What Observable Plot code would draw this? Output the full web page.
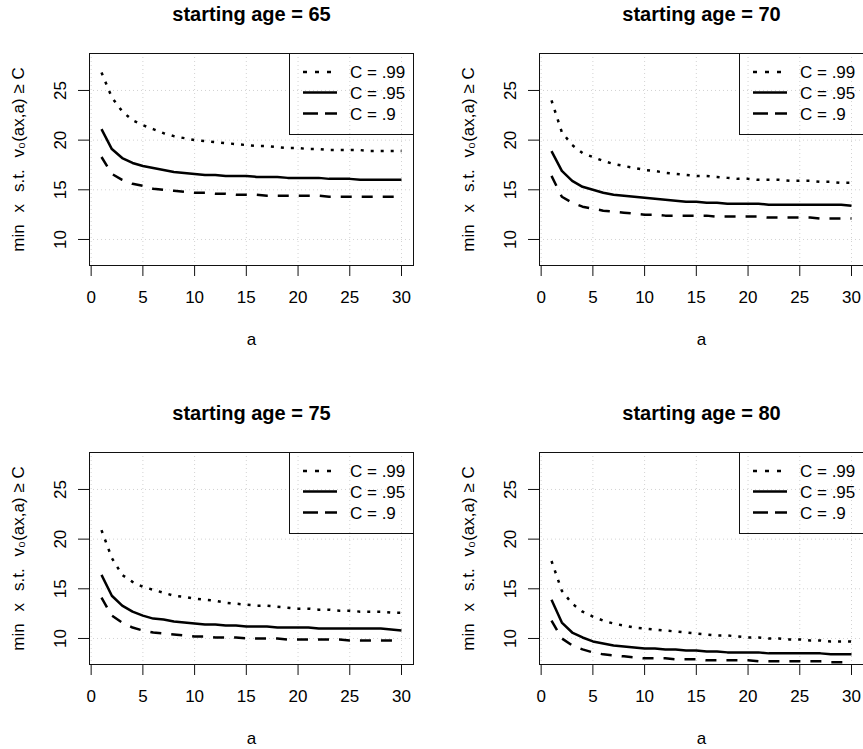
<!DOCTYPE html>
<html><head><meta charset="utf-8">
<script src="https://cdn.jsdelivr.net/npm/d3@7"></script>
<script src="https://cdn.jsdelivr.net/npm/@observablehq/plot@0.6"></script>
<style>
body{margin:0;background:#fff;}
#fig{position:relative;width:863px;height:749px;overflow:hidden;background:#fff;}
.panel{position:absolute;width:450px;height:399px;}
.panel svg{max-width:none !important;width:450px !important;height:399px !important;}
</style></head><body><div id="fig"></div>
<script>
// x values (a)
const aValues = [1,2,3,4,5,6,7,8,9,10,11,12,13,14,15,16,17,18,19,20,21,22,23,24,25,26,27,28,29,30];
const xTicks = [0,5,10,15,20,25,30];
const yTicks = [10,15,20,25];
const startingAges = [65,70,75,80];
const legendLabels = ["C = .99","C = .95","C = .9"];

// starting age 65
const age65_C99 = [26.8,24.3,22.9,22.0,21.5,21.1,20.7,20.4,20.2,20.0,19.9,19.8,19.7,19.6,19.5,19.4,19.4,19.3,19.2,19.2,19.1,19.1,19.0,19.0,19.0,19.0,18.9,18.9,18.9,18.9];
const age65_C95 = [21.1,19.1,18.2,17.7,17.4,17.2,17.0,16.8,16.7,16.6,16.5,16.5,16.4,16.4,16.4,16.3,16.3,16.3,16.2,16.2,16.2,16.2,16.1,16.1,16.1,16.0,16.0,16.0,16.0,16.0];
const age65_C90 = [18.3,16.6,16.0,15.6,15.4,15.1,15.0,14.9,14.8,14.7,14.7,14.6,14.6,14.5,14.5,14.5,14.4,14.4,14.4,14.4,14.4,14.4,14.3,14.3,14.3,14.3,14.3,14.3,14.3,14.3];
// starting age 70
const age70_C99 = [24.0,20.8,19.5,18.7,18.3,17.9,17.6,17.4,17.2,17.0,16.9,16.7,16.6,16.5,16.4,16.4,16.3,16.2,16.1,16.1,16.0,16.0,16.0,15.9,15.9,15.9,15.8,15.8,15.7,15.7];
const age70_C95 = [18.9,16.9,15.9,15.3,15.0,14.7,14.5,14.4,14.3,14.2,14.1,14.0,13.9,13.8,13.8,13.7,13.7,13.6,13.6,13.6,13.6,13.5,13.5,13.5,13.5,13.5,13.5,13.5,13.5,13.4];
const age70_C90 = [16.4,14.3,13.7,13.3,13.1,12.9,12.8,12.7,12.6,12.5,12.5,12.4,12.4,12.4,12.4,12.4,12.3,12.3,12.3,12.3,12.3,12.2,12.2,12.2,12.2,12.2,12.1,12.1,12.1,12.1];
// starting age 75
const age75_C99 = [20.9,18.1,16.4,15.7,15.2,14.9,14.6,14.3,14.2,14.0,13.9,13.8,13.6,13.5,13.4,13.3,13.3,13.2,13.1,13.0,13.0,12.9,12.9,12.8,12.8,12.7,12.7,12.7,12.6,12.6];
const age75_C95 = [16.4,14.3,13.3,12.7,12.3,12.0,11.9,11.7,11.6,11.5,11.4,11.4,11.3,11.3,11.2,11.2,11.2,11.1,11.1,11.1,11.1,11.0,11.0,11.0,11.0,11.0,11.0,11.0,10.9,10.8];
const age75_C90 = [14.1,12.3,11.6,11.1,10.8,10.6,10.5,10.4,10.3,10.2,10.2,10.1,10.1,10.1,10.0,10.0,10.0,10.0,9.9,9.9,9.9,9.9,9.9,9.9,9.8,9.8,9.8,9.8,9.8,9.8];
// starting age 80
const age80_C99 = [17.8,14.8,13.5,12.7,12.2,11.8,11.5,11.3,11.1,11.0,10.9,10.8,10.7,10.6,10.5,10.4,10.3,10.3,10.2,10.1,10.1,10.0,10.0,9.9,9.9,9.8,9.8,9.7,9.7,9.7];
const age80_C95 = [13.9,11.6,10.6,10.1,9.7,9.5,9.3,9.2,9.1,9.0,9.0,8.9,8.9,8.8,8.8,8.7,8.7,8.6,8.6,8.6,8.6,8.5,8.5,8.5,8.5,8.5,8.5,8.4,8.4,8.4];
const age80_C90 = [11.8,10.0,9.3,8.9,8.6,8.4,8.3,8.2,8.1,8.0,8.0,8.0,7.9,7.9,7.9,7.8,7.8,7.8,7.8,7.8,7.7,7.7,7.7,7.7,7.7,7.7,7.7,7.6,7.6,7.6];

const seriesByAge = {
  65: [age65_C99, age65_C95, age65_C90],
  70: [age70_C99, age70_C95, age70_C90],
  75: [age75_C99, age75_C95, age75_C90],
  80: [age80_C99, age80_C95, age80_C90]
};

const FONT = "'Liberation Sans', Arial, Helvetica, sans-serif";
const styles = [
  {dash: "3,7", width: 2.5},
  {dash: null, width: 2.5},
  {dash: "11,10", width: 2.5}
];
const yTitle = "min\u2002\u2009x\u2002\u2009s.t.\u2002\u2009v\u2080(ax,a) \u2265 C";

const W = 450, H = 399, ML = 89, MR = 37, MT = 53, MB = 134;

function makePanel(age) {
  const series = seriesByAge[age];
  const lineMarks = series.map((vals, k) => {
    const rows = aValues.map((x, i) => ({a: x, v: vals[i]}));
    const o = {x: "a", y: "v", stroke: "black", strokeWidth: styles[k].width, strokeLinecap: "butt", strokeLinejoin: "round"};
    if (styles[k].dash) o.strokeDasharray = styles[k].dash;
    return Plot.line(rows, o);
  });
  const svg = Plot.plot({
    width: W, height: H,
    marginLeft: ML, marginRight: MR, marginTop: MT, marginBottom: MB,
    style: {fontFamily: FONT, fontSize: "17px", background: "transparent", color: "black", overflow: "visible", maxWidth: "none"},
    x: {domain: [-0.16, 31.16], axis: null},
    y: {domain: [7.38, 28.72], axis: null},
    marks: [
      Plot.ruleX(xTicks, {x: d => d, stroke: "#d3d3d3", strokeWidth: 1, strokeDasharray: "1,3"}),
      Plot.ruleY(yTicks, {y: d => d, stroke: "#d3d3d3", strokeWidth: 1, strokeDasharray: "1,3"}),
      ...lineMarks,
      Plot.frame({stroke: "#111", strokeWidth: 1}),
      Plot.axisX(xTicks, {anchor: "bottom", tickSize: 11, tickPadding: 14, fontSize: 17, label: null, tickFormat: d => String(d), stroke: "#111"}),
      Plot.axisY(yTicks, {anchor: "left", tickSize: 11, tickFormat: () => "", label: null, stroke: "#111"}),
      Plot.text(yTicks, {y: d => d, text: d => String(d), frameAnchor: "left", dx: -29, rotate: -90, textAnchor: "middle", lineAnchor: "middle", fontSize: 17, fill: "black"}),
      Plot.text([`starting age = ${age}`], {text: d => d, frameAnchor: "top", dy: -39, textAnchor: "middle", lineAnchor: "middle", fontSize: 20, fontWeight: "bold", fill: "black"}),
      Plot.text(["a"], {text: d => d, frameAnchor: "bottom", dy: 74, textAnchor: "middle", lineAnchor: "middle", fontSize: 17, fill: "black"}),
      Plot.text([yTitle], {text: d => d, frameAnchor: "left", dx: -71, rotate: -90, textAnchor: "middle", lineAnchor: "middle", fontSize: 17, fill: "black"})
    ]
  });
  // legend (top-right, transparent background, as in R legend("topright"))
  const g = d3.select(svg).append("g").attr("font-family", FONT).attr("font-size", 17).attr("text-anchor", "start");
  const right = W - MR, top = MT;
  const lw = 124, lh = 81;
  const lx = right - lw;
  g.append("rect").attr("x", lx + 0.5).attr("y", top + 0.5).attr("width", lw).attr("height", lh)
    .attr("fill", "none").attr("stroke", "#111").attr("stroke-width", 1);
  const rowY = [19, 39.5, 60.5];
  legendLabels.forEach((lab, k) => {
    const y = top + rowY[k];
    const ln = g.append("line").attr("x1", lx + 14).attr("x2", lx + 48).attr("y1", y).attr("y2", y)
      .attr("stroke", "black").attr("stroke-width", styles[k].width).attr("stroke-linecap", "butt");
    if (k === 0) ln.attr("stroke-dasharray", "4,8");
    if (k === 2) ln.attr("stroke-dasharray", "15,7");
    g.append("text").attr("x", lx + 61).attr("y", y).attr("dy", "0.36em").attr("fill", "black").attr("text-anchor", "start").text(lab);
  });
  return svg;
}

const fig = document.getElementById("fig");
const positions = [[0,0],[450,0],[0,399],[450,399]];
startingAges.forEach((age, i) => {
  const div = document.createElement("div");
  div.className = "panel";
  div.style.left = positions[i][0] + "px";
  div.style.top = positions[i][1] + "px";
  div.appendChild(makePanel(age));
  fig.appendChild(div);
});
</script>
</body></html>
